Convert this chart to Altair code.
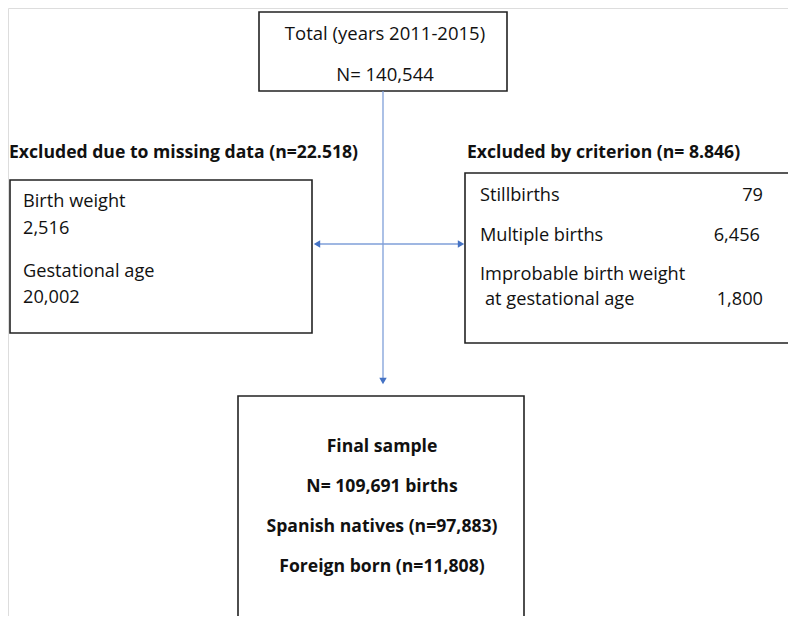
import altair as alt
import pandas as pd

FONT = "Open Sans"

# Boxes (page pixel coordinates)
box_x = [259, 10, 465, 238]
box_x2 = [507, 312, 830, 524]
box_y = [12, 180, 173, 396]
box_y2 = [91, 333, 343, 660]

# Connector lines
line_x = [383, 318]
line_x2 = [383, 460]
line_y = [91, 244]
line_y2 = [378, 244]

# Arrow heads
head_x = [383, 317, 461]
head_y = [381, 244, 244]
head_shape = ["triangle-down", "triangle-left", "triangle-right"]

# Texts
center_texts = ["Total (years 2011-2015)", "N= 140,544"]
center_x = [385, 385]
center_y = [34, 75]

bold_center_texts = ["Final sample", "N= 109,691 births", "Spanish natives (n=97,883)", "Foreign born (n=11,808)"]
bold_center_x = [382, 382, 382, 382]
bold_center_y = [447, 487, 527, 567]

title_texts = ["Excluded due to missing data (n=22.518)", "Excluded by criterion (n= 8.846)"]
title_x = [9, 467]
title_y = [153, 153]

left_texts = ["Birth weight", "2,516", "Gestational age", "20,002",
              "Stillbirths", "Multiple births", "Improbable birth weight", "at gestational age"]
left_x = [23, 23, 23, 23, 480, 480, 480, 485]
left_y = [202, 229, 272, 298, 196, 236, 275, 300]

right_texts = ["79", "6,456", "1,800"]
right_x = [763, 760, 763]
right_y = [196, 236, 300]

W, H = 780, 608
xs = alt.Scale(domain=[8, 8 + W], range=[0, W])
ys = alt.Scale(domain=[8, 8 + H], range=[0, H])

def X(f="x"):
    return alt.X(f"{f}:Q", scale=xs, axis=None)

def Y(f="y"):
    return alt.Y(f"{f}:Q", scale=ys, axis=None)

boxes = pd.DataFrame({"x": box_x, "x2": box_x2, "y": box_y, "y2": box_y2})
lines = pd.DataFrame({"x": line_x, "x2": line_x2, "y": line_y, "y2": line_y2})
heads = pd.DataFrame({"x": head_x, "y": head_y, "shape": head_shape})

box_layer = alt.Chart(boxes).mark_rect(fill=None, stroke="#222222", strokeWidth=1.6, clip=True).encode(
    x=X(), x2="x2:Q", y=Y(), y2="y2:Q")

line_layer = alt.Chart(lines).mark_rule(color="#7F9FD9", strokeWidth=1.3).encode(
    x=X(), x2="x2:Q", y=Y(), y2="y2:Q")

head_layer = alt.Chart(heads).mark_point(filled=True, color="#4472C4", size=55, opacity=1).encode(
    x=X(), y=Y(), shape=alt.Shape("shape:N", scale=None))

def text_layer(texts, xv, yv, align, weight, size):
    df = pd.DataFrame({"t": texts, "x": xv, "y": yv})
    return alt.Chart(df).mark_text(align=align, baseline="middle", font=FONT, fontSize=size,
                                   fontWeight=weight, color="#111111").encode(
        x=X(), y=Y(), text="t:N")

chart = alt.layer(
    box_layer, line_layer, head_layer,
    text_layer(center_texts, center_x, center_y, "center", "normal", 18.5),
    text_layer(bold_center_texts, bold_center_x, bold_center_y, "center", "bold", 17.6),
    text_layer(title_texts, title_x, title_y, "left", "bold", 17.6),
    text_layer(left_texts, left_x, left_y, "left", "normal", 18.2),
    text_layer(right_texts, right_x, right_y, "right", "normal", 18.2),
).properties(
    width=W, height=H, padding=0, autosize=alt.AutoSizeParams(type="none")
).configure_view(strokeOpacity=0, strokeWidth=0, fill="white").configure(background="white")

chart.save("out.html", embed_options={"renderer": "svg", "actions": False})
